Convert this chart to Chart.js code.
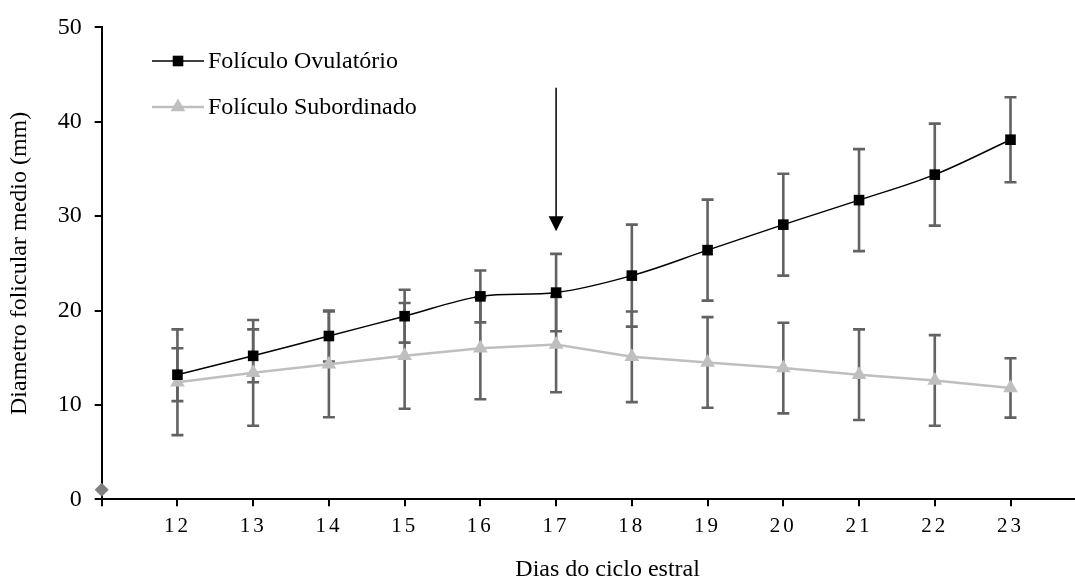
<!DOCTYPE html>
<html>
<head>
<meta charset="utf-8">
<script src="https://cdn.jsdelivr.net/npm/chart.js@4/dist/chart.umd.min.js"></script>
<style>
  html, body { margin: 0; padding: 0; background: #fff; }
  #wrap { width: 1075px; height: 582px; overflow: hidden; }
</style>
</head>
<body>
<div id="wrap"><canvas id="myChart" width="1122" height="582"></canvas></div>
<script>
// dias do ciclo (eixo x) e rotulos
const days = [12, 13, 14, 15, 16, 17, 18, 19, 20, 21, 22, 23];
const yTicks = [0, 10, 20, 30, 40, 50];

// foliculo ovulatorio: media e desvio
const ovulatorio = [13.2, 15.2, 17.3, 19.4, 21.5, 21.9, 23.7, 26.4, 29.1, 31.7, 34.4, 38.1];
const ovulatorioErr = [2.8, 2.8, 2.7, 2.8, 2.75, 4.1, 5.4, 5.35, 5.4, 5.4, 5.4, 4.5];

// foliculo subordinado: media e desvio
const subordinado = [12.4, 13.4, 14.3, 15.2, 16.0, 16.4, 15.1, 14.5, 13.9, 13.2, 12.6, 11.8];
const subordinadoErr = [5.6, 5.6, 5.6, 5.6, 5.4, 5.05, 4.8, 4.8, 4.8, 4.8, 4.8, 3.15];

// ponto solto na origem
const origem = [{ x: 11, y: 1 }];

// seta (dia 17, de 43.6 ate 28.4 mm)
const setaDia = 17;
const setaDe = 43.6;
const setaAte = 28.4;

const FONT = 'Liberation Serif';

function toPoints(vals) {
  return vals.map((v, i) => ({ x: days[i], y: v }));
}

const errorBars = {
  id: 'errorBars',
  beforeDatasetsDraw(chart) {
    const { ctx, scales: { x, y } } = chart;
    ctx.save();
    ctx.strokeStyle = '#626262';
    ctx.lineWidth = 2.6;
    [[ovulatorio, ovulatorioErr], [subordinado, subordinadoErr]].forEach(([vals, errs]) => {
      vals.forEach((v, i) => {
        const px = x.getPixelForValue(days[i]);
        const top = y.getPixelForValue(v + errs[i]);
        const bot = y.getPixelForValue(v - errs[i]);
        ctx.beginPath();
        ctx.moveTo(px, top); ctx.lineTo(px, bot);
        ctx.moveTo(px - 6, top); ctx.lineTo(px + 6, top);
        ctx.moveTo(px - 6, bot); ctx.lineTo(px + 6, bot);
        ctx.stroke();
      });
    });
    ctx.restore();
  }
};

const arrowAndLegend = {
  id: 'arrowAndLegend',
  afterDraw(chart) {
    const { ctx, scales: { x, y } } = chart;
    ctx.save();

    // seta
    const ax = x.getPixelForValue(setaDia);
    const y0 = y.getPixelForValue(setaDe);
    const y1 = y.getPixelForValue(setaAte);
    ctx.strokeStyle = '#000';
    ctx.fillStyle = '#000';
    ctx.lineWidth = 1.5;
    ctx.beginPath();
    ctx.moveTo(ax, y0);
    ctx.lineTo(ax, y1 - 14);
    ctx.stroke();
    ctx.beginPath();
    ctx.moveTo(ax - 7.5, y1 - 15);
    ctx.lineTo(ax + 7.5, y1 - 15);
    ctx.lineTo(ax, y1);
    ctx.closePath();
    ctx.fill();

    // legenda
    const items = chart.data.datasets.filter((d) => !d.hideLegend);
    items.forEach((ds, i) => {
      const ly = 61 + i * 46;
      ctx.strokeStyle = ds.borderColor;
      ctx.lineWidth = ds.borderWidth;
      ctx.beginPath();
      ctx.moveTo(152, ly);
      ctx.lineTo(204, ly);
      ctx.stroke();
      ctx.fillStyle = ds.pointBackgroundColor;
      Chart.helpers.drawPoint(ctx, { pointStyle: ds.pointStyle, radius: ds.pointRadius, rotation: 0, borderWidth: 0 }, 178, ly);
      ctx.fillStyle = '#000';
      ctx.font = '24px "' + FONT + '"';
      ctx.textBaseline = 'middle';
      ctx.textAlign = 'left';
      ctx.fillText(ds.label, 208, ly + 1);
    });
    ctx.restore();
  }
};

const spacedTicks = {
  id: 'spacedTicks',
  afterUpdate(chart) {
    const sx = chart.scales.x;
    if (sx.__spaced) return;
    const orig = sx.drawLabels;
    sx.drawLabels = function(area) {
      const c = this.ctx;
      c.save();
      c.letterSpacing = '3px';
      orig.call(this, area);
      c.restore();
    };
    sx.__spaced = true;
  }
};

const ctx = document.getElementById('myChart');
const myChart = new Chart(ctx, {
  type: 'line',
  data: {
    datasets: [
      {
        label: 'Folículo Ovulatório',
        data: toPoints(ovulatorio),
        borderColor: '#000000',
        backgroundColor: '#000000',
        pointBackgroundColor: '#000000',
        borderWidth: 1.5,
        pointStyle: 'rect',
        pointRadius: 7.5,
        pointBorderWidth: 0,
        tension: 0.35,
        clip: false
      },
      {
        label: 'Folículo Subordinado',
        data: toPoints(subordinado),
        borderColor: '#BFBFBF',
        backgroundColor: '#BFBFBF',
        pointBackgroundColor: '#BFBFBF',
        borderWidth: 2.5,
        pointStyle: 'triangle',
        pointRadius: 8.5,
        pointBorderWidth: 0,
        tension: 0,
        clip: false
      },
      {
        label: '',
        hideLegend: true,
        data: origem,
        showLine: false,
        pointStyle: 'rectRot',
        pointRadius: 7,
        pointBackgroundColor: '#808080',
        pointBorderWidth: 0,
        clip: false
      }
    ]
  },
  options: {
    responsive: false,
    animation: false,
    devicePixelRatio: 1,
    layout: { padding: { top: 21.5, left: 0, right: 0, bottom: 0 } },
    plugins: {
      legend: { display: false },
      tooltip: { enabled: false }
    },
    scales: {
      x: {
        type: 'linear',
        min: 11,
        max: 24.36,
        afterFit: (s) => { s.height = 82.7; },
        border: { display: true, color: '#000', width: 2 },
        grid: { drawOnChartArea: false, drawTicks: true, tickLength: 7, color: '#000', lineWidth: 2 },
        ticks: {
          stepSize: 1,
          autoSkip: false,
          maxRotation: 0,
          padding: 8,
          color: '#000',
          font: { family: FONT, size: 21 },
          callback: (v) => (days.includes(v) ? String(v) : '')
        },
        title: {
          display: true,
          text: 'Dias do ciclo estral',
          color: '#000',
          font: { family: FONT, size: 24, lineHeight: 1 },
          padding: { top: 0, bottom: 0 }
        }
      },
      y: {
        min: 0,
        max: 50,
        afterFit: (s) => { s.width = 101.7; },
        afterBuildTicks: (s) => { s.ticks = yTicks.map((v) => ({ value: v })); },
        border: { display: true, color: '#000', width: 2 },
        grid: { drawOnChartArea: false, drawTicks: true, tickLength: 7, color: '#000', lineWidth: 2 },
        ticks: {
          padding: 13,
          color: '#000',
          font: { family: FONT, size: 24 }
        },
        title: {
          display: true,
          text: 'Diametro folicular medio (mm)',
          color: '#000',
          font: { family: FONT, size: 24, lineHeight: 1 },
          padding: { top: 8, bottom: 0 }
        }
      }
    }
  },
  plugins: [errorBars, arrowAndLegend, spacedTicks]
});
</script>
</body>
</html>
